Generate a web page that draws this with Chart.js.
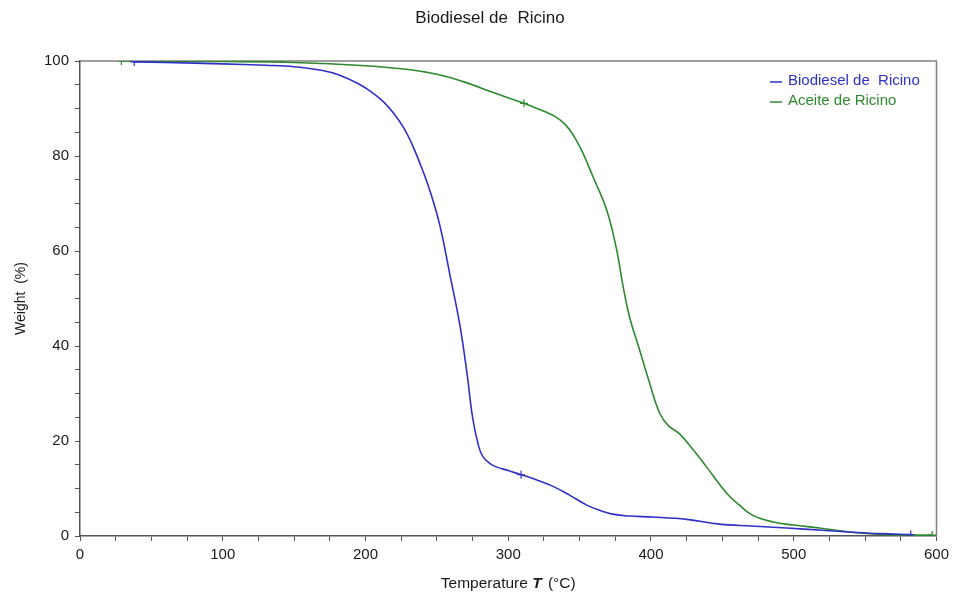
<!DOCTYPE html>
<html>
<head>
<meta charset="utf-8">
<script src="https://cdn.jsdelivr.net/npm/chart.js@4/dist/chart.umd.min.js"></script>
<style>
  html, body { margin: 0; padding: 0; background: #fff; }
  #wrap { width: 954px; height: 594px; }
</style>
</head>
<body>
<div id="wrap"><canvas id="myChart" width="954" height="594"></canvas></div>
<script>
// Data
const biodieselTemp = [38, 60, 100, 130, 150, 170, 182, 195, 205, 213, 220, 227, 233, 239, 245, 252, 259, 266, 271, 275, 279, 282, 287, 292, 300, 309, 320, 331, 343, 355, 365, 373, 385, 401, 425, 448, 470, 495, 520, 541, 560, 582];
const biodieselWeight = [99.8, 99.7, 99.4, 99.1, 98.8, 98.0, 97.0, 95.2, 93.3, 91.3, 88.9, 85.8, 82.2, 77.8, 72.8, 65.5, 55.2, 44.6, 34.5, 25.0, 19.2, 16.8, 15.3, 14.5, 13.8, 12.9, 11.8, 10.5, 8.6, 6.5, 5.3, 4.6, 4.2, 4.0, 3.5, 2.5, 2.1, 1.7, 1.2, 0.8, 0.5, 0.3];
const aceiteTemp = [29, 60, 100, 150, 200, 230, 250, 270, 290, 311, 325, 333, 340, 346, 352, 359, 369, 376, 380, 385, 392, 399, 406, 412, 420, 430, 439, 453, 462, 471, 485, 500, 518, 535, 553, 575, 597];
const aceiteWeight = [100, 99.9, 99.9, 99.7, 99.0, 98.2, 97.2, 95.5, 93.3, 91.1, 89.4, 88.3, 86.6, 84.2, 80.8, 75.9, 68.6, 60.2, 53.3, 46.1, 39.2, 32.2, 25.9, 23.3, 21.5, 18, 14.5, 9, 6.5, 4.4, 3, 2.3, 1.7, 1.0, 0.5, 0.2, 0.2];
// temperatures where the curves carry a small "+" marker
const biodieselMarks = [38, 309, 582];
const aceiteMarks = [29, 311, 597];

const seriesNames = ['Biodiesel de  Ricino', 'Aceite de Ricino'];
const chartTitle = 'Biodiesel de  Ricino';
const xTicks = [0, 100, 200, 300, 400, 500, 600];
const yTicks = [0, 20, 40, 60, 80, 100];

const FONT = "'Liberation Sans', Arial, sans-serif";
const BLUE = '#3030c8';
const GREEN = '#2e8a2e';

function toPoints(xs, ys) {
  return xs.map(function (x, i) { return { x: x, y: ys[i] }; });
}

// title, frame, legend and x-axis title drawn by hand
const decorPlugin = {
  id: 'decor',
  beforeDatasetsDraw(chart) {
    const c = chart.ctx, a = chart.chartArea;
    c.save();
    c.strokeStyle = '#808080';
    c.lineWidth = 1.5;
    c.beginPath();
    c.moveTo(a.left, a.top);
    c.lineTo(a.right, a.top);
    c.lineTo(a.right, a.bottom);
    c.stroke();
    c.restore();
  },
  afterDraw(chart) {
    const c = chart.ctx, a = chart.chartArea;
    c.save();
    c.fillStyle = '#1a1a1a';
    c.textBaseline = 'middle';
    c.textAlign = 'center';
    c.font = '17px ' + FONT;
    c.fillText(chartTitle, 490, 18);

    // x title with italic bold T
    const p1 = 'Temperature ', p2 = 'T', p3 = ' (°C)';
    const sz = 15.5;
    c.font = sz + 'px ' + FONT;
    const w1 = c.measureText(p1).width, w3 = c.measureText(p3).width;
    c.font = 'italic bold ' + sz + 'px ' + FONT;
    const w2 = c.measureText(p2).width + 2;
    let x = (a.left + a.right) / 2 - (w1 + w2 + w3) / 2;
    const y = 584;
    c.textAlign = 'left';
    c.font = sz + 'px ' + FONT;
    c.fillText(p1, x, y);
    c.font = 'italic bold ' + sz + 'px ' + FONT;
    c.fillText(p2, x + w1, y);
    c.font = sz + 'px ' + FONT;
    c.fillText(p3, x + w1 + w2, y);

    // legend inside the plot
    c.font = '15px ' + FONT;
    chart.data.datasets.forEach(function (ds, i) {
      const ly = 81 + i * 20;
      c.strokeStyle = ds.borderColor;
      c.lineWidth = 1.5;
      c.beginPath();
      c.moveTo(770, ly + 1);
      c.lineTo(782, ly + 1);
      c.stroke();
      c.fillStyle = ds.borderColor;
      c.fillText(ds.label, 788, ly);
    });
    c.restore();
  }
};

const ctx = document.getElementById('myChart').getContext('2d');
const myChart = new Chart(ctx, {
  type: 'line',
  data: {
    datasets: [
      {
        label: seriesNames[0],
        data: toPoints(biodieselTemp, biodieselWeight),
        borderColor: BLUE,
        backgroundColor: BLUE,
        borderWidth: 1.6,
        tension: 0.4,
        pointStyle: 'cross',
        pointRadius: function (c) { return c.raw && biodieselMarks.includes(c.raw.x) ? 4 : 0; },
        pointBorderWidth: 1.2
      },
      {
        label: seriesNames[1],
        data: toPoints(aceiteTemp, aceiteWeight),
        borderColor: GREEN,
        backgroundColor: GREEN,
        borderWidth: 1.6,
        tension: 0.4,
        pointStyle: 'cross',
        pointRadius: function (c) { return c.raw && aceiteMarks.includes(c.raw.x) ? 4 : 0; },
        pointBorderWidth: 1.2
      }
    ]
  },
  options: {
    responsive: false,
    animation: false,
    layout: { padding: { top: 61, right: 17, left: 0, bottom: 0 } },
    plugins: {
      legend: { display: false },
      title: { display: false },
      tooltip: { enabled: false }
    },
    scales: {
      x: {
        type: 'linear',
        min: 0,
        max: 600,
        afterBuildTicks: function (scale) {
          const t = [];
          for (let v = 0; v <= 600; v += 25) t.push({ value: v });
          scale.ticks = t;
        },
        afterFit: function (scale) { scale.height = 58; },
        ticks: {
          autoSkip: false,
          maxRotation: 0,
          padding: 5,
          color: '#1a1a1a',
          font: { family: FONT, size: 15 },
          callback: function (v) { return xTicks.includes(v) ? String(v) : ''; }
        },
        grid: {
          drawOnChartArea: false,
          drawTicks: true,
          tickLength: 5,
          color: '#555'
        },
        border: { display: true, color: '#555', width: 1.5 }
      },
      y: {
        type: 'linear',
        min: 0,
        max: 100,
        afterBuildTicks: function (scale) {
          const t = [];
          for (let v = 0; v <= 100; v += 5) t.push({ value: v });
          scale.ticks = t;
        },
        afterFit: function (scale) { scale.width = 80; },
        ticks: {
          autoSkip: false,
          padding: 6,
          color: '#1a1a1a',
          font: { family: FONT, size: 15 },
          callback: function (v) { return yTicks.includes(v) ? String(v) : ''; }
        },
        grid: {
          drawOnChartArea: false,
          drawTicks: true,
          tickLength: 5,
          color: '#555'
        },
        border: { display: true, color: '#555', width: 1.5 },
        title: {
          display: true,
          text: 'Weight  (%)',
          color: '#1a1a1a',
          font: { family: FONT, size: 14 },
          padding: { top: 13, bottom: 0 }
        }
      }
    }
  },
  plugins: [decorPlugin]
});
</script>
</body>
</html>
